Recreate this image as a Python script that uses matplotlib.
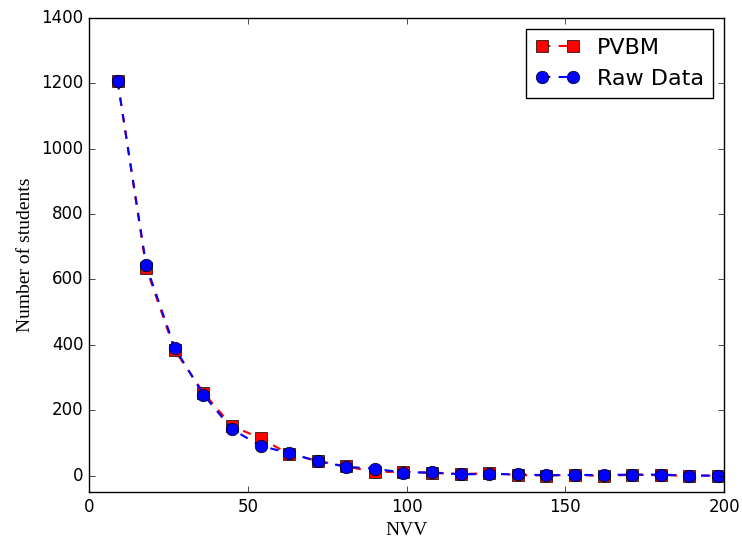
import numpy as np
import matplotlib
matplotlib.use("Agg")
import matplotlib.pyplot as plt

plt.style.use("classic")

nvv = [9, 18, 27, 36, 45, 54, 63, 72, 81, 90, 99,
       108, 117, 126, 135, 144, 153, 162, 171, 180, 189, 198]
pvbm = [1207, 635, 383, 254, 152, 114, 66, 45, 28, 11, 12,
        8, 5, 7, 2, 0, 3, -2, 3, 1, 0, 0]
raw = [1207, 643, 390, 248, 142, 91, 69, 44, 27, 21, 9,
       10, 4, 5, 4, 1, 2, 2, 3, 3, 0, 0]

fig = plt.figure(figsize=(7.42, 5.46), dpi=100, facecolor="white")
ax = fig.add_axes([0.12, 0.099, 0.856, 0.868])

ax.plot(nvv, pvbm, "rs--", markersize=9, linewidth=1.5, label="PVBM")
ax.plot(nvv, raw, "bo--", markersize=9, linewidth=1.5, label="Raw Data")

ax.set_xlim(0, 200)
ax.set_ylim(-50, 1400)
ax.set_xticks([0, 50, 100, 150, 200])
ax.set_yticks(np.arange(0, 1401, 200))
ax.tick_params(labelsize=12)

ax.set_xlabel("NVV", family="Liberation Serif", fontsize=14)
ax.set_ylabel("Number of students", family="Liberation Serif", fontsize=14)

ax.legend(loc="upper right", numpoints=2, fontsize=16, handletextpad=0.8)

fig.savefig("out.png", dpi=100, facecolor="white")
